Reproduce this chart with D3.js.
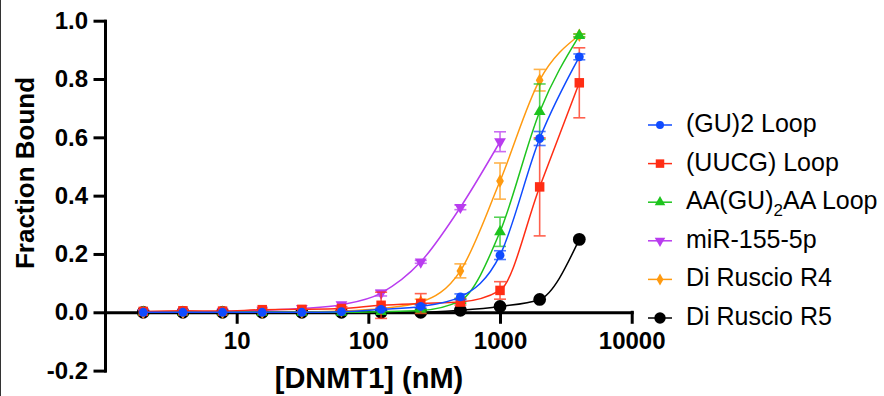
<!DOCTYPE html>
<html>
<head>
<meta charset="utf-8">
<script src="https://cdn.jsdelivr.net/npm/d3@7"></script>
<style>
  body { margin: 0; background: #fff; }
  svg { display: block; font-family: "Liberation Sans", Arial, sans-serif; }
</style>
</head>
<body>
<main></main>
<script>
// concentrations (nM), 2-fold dilutions
let conc = [1.953, 3.906, 7.813, 15.63, 31.25, 62.5, 125, 250, 500, 1000, 2000, 4000]

let names = ['(GU)2 Loop', '(UUCG) Loop', 'AA(GU)2AA Loop', 'miR-155-5p', 'Di Ruscio R4', 'Di Ruscio R5']
let colors = ['#0f4bff', '#ff2d14', '#1ec41e', '#b93cef', '#ff9a10', '#000000']
let shapes = ['circle', 'square', 'triangle', 'triangleDown', 'diamond', 'bigCircle']

let gu2     = [0, 0, 0, 0, 0, 0.002, 0.01, 0.02, 0.053, 0.196, 0.596, 0.876]
let gu2Err  = [0, 0, 0, 0, 0, 0, 0.004, 0.006, 0.01, 0.015, 0.024, 0.01]
let uucg    = [0.003, 0.005, 0.004, 0.009, 0.01, 0.013, 0.024, 0.03, 0.035, 0.075, 0.43, 0.787]
let uucgErr = [0, 0, 0, 0, 0, 0.006, 0.045, 0.034, 0.01, 0.03, 0.168, 0.12]
let aa      = [0, 0, 0, 0, 0, 0, 0.002, 0.006, 0.04, 0.276, 0.688, 0.949]
let aaErr   = [0, 0, 0, 0, 0, 0, 0, 0.004, 0.008, 0.05, 0.095, 0.005]
let mir     = [0, 0.001, 0.003, 0.007, 0.013, 0.026, 0.066, 0.173, 0.36, 0.585]
let mirErr  = [0, 0, 0, 0, 0, 0, 0.01, 0.005, 0.008, 0.034]
let r4      = [0, 0, 0, 0, 0.001, 0.004, 0.013, 0.035, 0.142, 0.45, 0.796, 0.95]
let r4Err   = [0, 0, 0, 0, 0, 0, 0, 0.01, 0.024, 0.062, 0.037, 0.005]
let r5      = [0, 0, 0, 0, 0, 0, 0, 0, 0.007, 0.02, 0.044, 0.25]
let r5Err   = [0, 0, 0, 0, 0, 0, 0, 0, 0, 0, 0, 0]

let values = [gu2, uucg, aa, mir, r4, r5]
let errors = [gu2Err, uucgErr, aaErr, mirErr, r4Err, r5Err]

let xTicks = [10, 100, 1000, 10000]
let yTicks = [-0.2, 0, 0.2, 0.4, 0.6, 0.8, 1.0]

let width = 884
let height = 396

let svg = d3.select('main')
  .append('svg')
  .attr('width', width)
  .attr('height', height)

// thin frame line on the left edge
svg.append('line')
   .attr('x1', 0.5).attr('x2', 0.5)
   .attr('y1', 0).attr('y2', height)
   .style('stroke', '#333')
   .style('stroke-width', 1)

let x = d3.scaleLog()
          .domain([1, 10000])
          .range([105, 631.7])

let y = d3.scaleLinear()
          .domain([-0.2, 1.0])
          .range([370.6, 20.7])

// Axes
svg.append('g')
   .attr('transform', 'translate(105, 0)')
   .call(d3.axisLeft(y).tickValues(yTicks).tickFormat(d => d.toFixed(1))
           .tickSize(10).tickSizeOuter(0).tickPadding(7))

svg.append('g')
   .attr('transform', `translate(0, ${y(0)})`)
   .call(d3.axisBottom(x).tickValues(xTicks).tickFormat(d3.format('d'))
           .tickSize(10).tickSizeOuter(0).tickPadding(10))

svg.selectAll('.domain, .tick line')
   .style('stroke', '#000')
   .style('stroke-width', 3)
   .style('stroke-linecap', 'square')

svg.selectAll('.tick text')
   .style('font-family', '"Liberation Sans", Arial, sans-serif')
   .style('font-size', '24px')
   .style('font-weight', 'bold')
   .style('fill', '#000')

// Axis titles
svg.append('text')
   .attr('transform', 'translate(34, 173) rotate(-90)')
   .attr('text-anchor', 'middle')
   .style('font-size', '26px')
   .style('font-weight', 'bold')
   .text('Fraction Bound')

svg.append('text')
   .attr('x', 369)
   .attr('y', 388)
   .attr('text-anchor', 'middle')
   .style('font-size', '29px')
   .style('font-weight', 'bold')
   .text('[DNMT1] (nM)')

// marker shapes
function symbolPath(shape, scale) {
  let type = d3.symbolCircle, size = 62
  if (shape == 'bigCircle') size = 128
  if (shape == 'square') { type = d3.symbolSquare; size = 90 }
  if (shape == 'triangle' || shape == 'triangleDown') { type = d3.symbolTriangle; size = 60 }
  if (shape == 'diamond') { type = d3.symbolDiamond; size = 52 }
  return d3.symbol().type(type).size(size * scale)()
}
function rot(shape) { return shape == 'triangleDown' ? ' rotate(180)' : '' }

let line = d3.line()
  .x(d => x(d.c))
  .y(d => y(d.v))
  .curve(d3.curveMonotoneX)

// Plot series, last legend entry at the bottom
let plot = svg.append('g')
let order = [5, 3, 4, 2, 1, 0]

order.forEach(i => {
  let pts = values[i].map((v, j) => ({c: conc[j], v: v, e: errors[i][j]}))
  let g = plot.append('g')

  g.append('path')
   .datum(pts)
   .attr('d', line)
   .style('fill', 'none')
   .style('stroke', colors[i])
   .style('stroke-width', 1.5)

  let eb = g.selectAll('.err')
    .data(pts.filter(d => d.e > 0))
    .enter()
    .append('g')
    .style('stroke', colors[i])
    .style('stroke-width', 1.6)
    .style('opacity', 0.75)

  eb.append('line')
    .attr('x1', d => x(d.c)).attr('x2', d => x(d.c))
    .attr('y1', d => y(d.v - d.e)).attr('y2', d => y(d.v + d.e))
  eb.append('line')
    .attr('x1', d => x(d.c) - 6).attr('x2', d => x(d.c) + 6)
    .attr('y1', d => y(d.v + d.e)).attr('y2', d => y(d.v + d.e))
  eb.append('line')
    .attr('x1', d => x(d.c) - 6).attr('x2', d => x(d.c) + 6)
    .attr('y1', d => y(d.v - d.e)).attr('y2', d => y(d.v - d.e))

  g.selectAll('.pt')
   .data(pts)
   .enter()
   .append('path')
   .attr('d', symbolPath(shapes[i], 1))
   .attr('transform', d => `translate(${x(d.c)}, ${y(d.v)})` + rot(shapes[i]))
   .style('fill', colors[i])
})

// Legend
let legend = svg.append('g')
names.forEach((name, i) => {
  let ly = 125 + i * 38.6
  let lg = legend.append('g')
  lg.append('line')
    .attr('x1', 648).attr('x2', 672)
    .attr('y1', ly).attr('y2', ly)
    .style('stroke', colors[i])
    .style('stroke-width', 1.5)
  lg.append('path')
    .attr('d', symbolPath(shapes[i], 0.8))
    .attr('transform', `translate(660, ${ly})` + rot(shapes[i]))
    .style('fill', colors[i])

  let t = lg.append('text')
    .attr('x', 686)
    .attr('y', ly + 7)
    .style('font-size', '25px')
    .style('fill', '#000')
  if (name == 'AA(GU)2AA Loop') {
    t.append('tspan').text('AA(GU)')
    t.append('tspan').attr('dy', 7).style('font-size', '17px').text('2')
    t.append('tspan').attr('dy', -7).text('AA Loop')
  } else {
    t.text(name)
  }
})
</script>
</body>
</html>
